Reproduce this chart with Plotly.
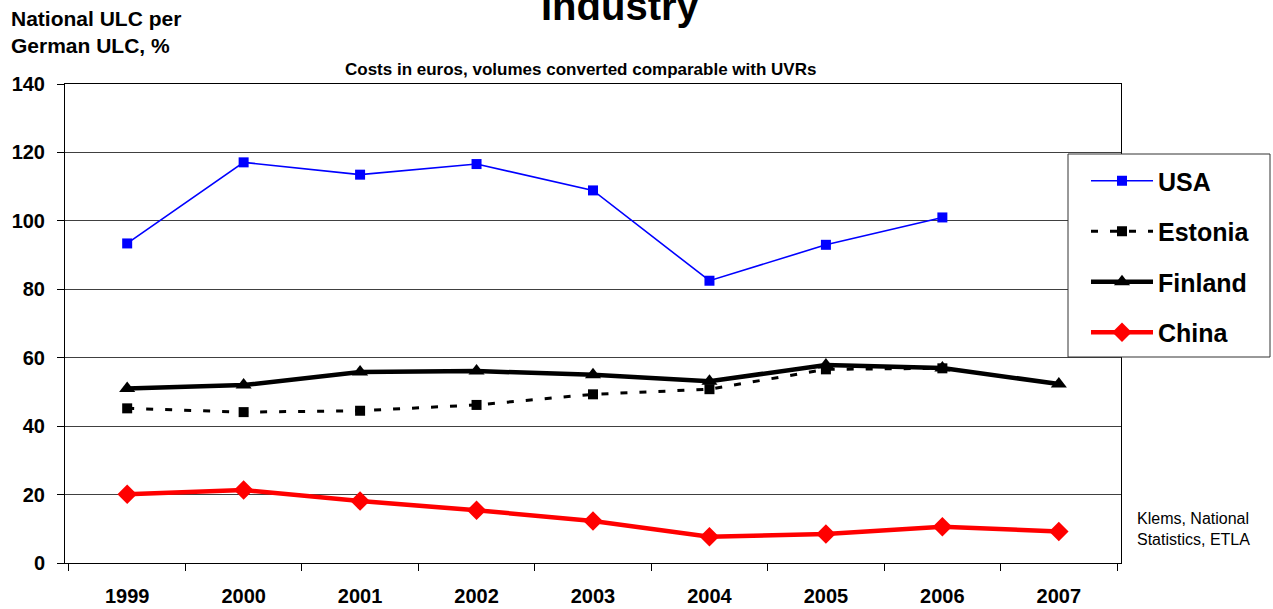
import plotly.graph_objects as go

# Unit labour cost relative to Germany (%), industry
years = ["1999", "2000", "2001", "2002", "2003", "2004", "2005", "2006", "2007"]
usa = [93.4, 117.1, 113.5, 116.6, 108.9, 82.5, 93.0, 101.0, None]
estonia = [45.2, 44.1, 44.5, 46.2, 49.3, 50.8, 56.6, 56.9, None]
finland = [51.0, 52.0, 55.8, 56.1, 55.0, 53.1, 57.9, 57.0, 52.3]
china = [20.1, 21.3, 18.1, 15.4, 12.3, 7.7, 8.5, 10.6, 9.2]

FONT = "Arial, Liberation Sans, sans-serif"

# plot-area geometry in pixels (used to place paper-anchored items)
L, R, T, B = 65, 152, 84, 46
W, H = 1273, 609
PW, PH = W - L - R, H - T - B


def px_x(x):
    return (x - L) / PW


def px_y(y):
    return (H - B - y) / PH


fig = go.Figure()

fig.add_trace(go.Scatter(
    x=years, y=usa, name="USA", mode="lines+markers", legendgroup="a",
    line=dict(color="#0000FF", width=1.6),
    marker=dict(symbol="square", size=10, color="#0000FF"),
))
fig.add_trace(go.Scatter(
    x=years, y=estonia, name="Estonia", mode="lines+markers", legendgroup="b",
    line=dict(color="#000000", width=3, dash="7px,12px"),
    marker=dict(symbol="square", size=10, color="#000000"),
))
fig.add_trace(go.Scatter(
    x=years, y=finland, name="Finland", mode="lines+markers", legendgroup="c",
    line=dict(color="#000000", width=4.5),
    marker=dict(symbol="triangle-up", size=14, color="#000000"),
))
fig.add_trace(go.Scatter(
    x=years, y=china, name="China", mode="lines+markers", legendgroup="d",
    line=dict(color="#FF0000", width=4.5),
    marker=dict(symbol="diamond", size=15, color="#FF0000"),
))

fig.update_layout(
    width=W, height=H,
    margin=dict(l=L, r=R, t=T, b=B),
    paper_bgcolor="white", plot_bgcolor="white",
    font=dict(family=FONT, color="black"),
    showlegend=True,
    legend=dict(
        x=px_x(1086), y=px_y(158), xanchor="left", yanchor="top",
        bgcolor="rgba(0,0,0,0)", borderwidth=0,
        font=dict(size=25, family=FONT, weight="bold"),
        itemwidth=62, tracegroupgap=15,
    ),
    xaxis=dict(
        type="category", categoryorder="array", categoryarray=years,
        showline=True, linecolor="black", linewidth=1, mirror=True,
        ticks="outside", tickson="boundaries", ticklen=7, tickcolor="black",
        showgrid=False, ticklabelstandoff=15, automargin=False,
        tickfont=dict(size=20, family=FONT, weight="bold"),
    ),
    yaxis=dict(
        range=[0, 140], dtick=20, tick0=0, automargin=False,
        showline=True, linecolor="black", linewidth=1, mirror=True,
        ticks="outside", ticklen=7, tickcolor="black",
        showgrid=True, gridcolor="#404040", gridwidth=1, zeroline=False,
        ticklabelstandoff=8,
        tickfont=dict(size=20, family=FONT, weight="bold"),
    ),
    shapes=[
        # legend frame, drawn over the gridlines
        dict(type="rect", xref="paper", yref="paper", layer="above",
             x0=px_x(1068), x1=px_x(1270), y0=px_y(357), y1=px_y(154),
             fillcolor="white", line=dict(color="#333333", width=1)),
    ],
    annotations=[
        dict(text="<b>Industry</b>", xref="paper", yref="paper",
             x=px_x(620), y=px_y(6), xanchor="center", yanchor="middle",
             showarrow=False, font=dict(size=40, family=FONT)),
        dict(text="<b>National ULC per<br>German ULC, %</b>", xref="paper", yref="paper",
             x=px_x(9), y=px_y(32), xanchor="left", yanchor="middle", align="left",
             showarrow=False, font=dict(size=21, family=FONT)),
        dict(text="<b>Costs in euros, volumes converted comparable with UVRs</b>",
             xref="paper", yref="paper",
             x=px_x(580), y=px_y(69), xanchor="center", yanchor="middle",
             showarrow=False, font=dict(size=17, family=FONT)),
        dict(text="Klems, National<br>Statistics, ETLA", xref="paper", yref="paper",
             x=px_x(1135), y=px_y(529), xanchor="left", yanchor="middle", align="left",
             showarrow=False, font=dict(size=16, family=FONT)),
    ],
)

fig.write_html("out.html")
